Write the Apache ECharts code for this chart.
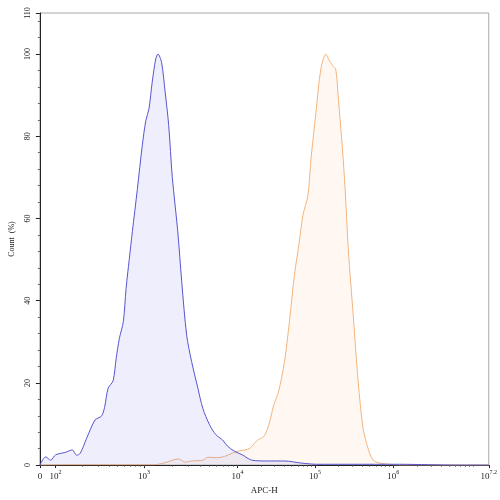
<!DOCTYPE html>
<html>
<head>
<meta charset="utf-8">
<title>APC-H histogram</title>
<script src="https://cdn.jsdelivr.net/npm/echarts@6/dist/echarts.min.js"></script>
<style>
    html, body { margin: 0; padding: 0; background: #fff; }
    #main { width: 500px; height: 500px; }
</style>
</head>
<body>
<div id="main"></div>
<script>
// x is the display channel (0..1000) of the transformed APC-H axis
var tickChannels = [0, 35, 232, 440, 613, 787, 1000];
var tickExps     = ['', '2', '3', '4', '5', '6', '7.2'];
// decade starts used for the small log ticks (channel, exponent width)
var decadeStarts = [35, 232, 440, 613, 787];
var decadeSizes  = [197, 208, 173, 174, 177.5];

var blueX = [0, 13, 24, 35, 57, 72, 82, 90, 104, 123, 137, 144, 152, 163, 170, 177, 186, 192, 199, 206,
             217, 228, 236, 243, 250, 258, 263, 271, 279, 287, 295, 307, 316, 327, 338, 352, 363, 378,
             392, 407, 418, 433, 451, 472, 505, 545, 582, 617, 691, 801, 866, 932, 1000];
var blueY = [0, 2, 1.2, 2.5, 3.1, 3.7, 2.4, 2.9, 6.5, 11, 11.9, 14, 18.7, 20.5, 26, 30.8, 35, 43, 50, 56.8,
             67, 77.7, 83.8, 86.7, 93, 98.8, 100, 98, 90.8, 82.6, 70, 57, 44.6, 31.6, 25.2, 18.7, 13.8, 9.8,
             7.4, 6.1, 4.6, 3.4, 2.5, 1.2, 1.0, 1.0, 0.5, 0.2, 0.2, 0.2, 0.1, 0, 0];

var orangeX = [0, 57, 254, 276, 309, 324, 337, 363, 374, 396, 411, 429, 445, 457, 468, 484, 499, 510, 521,
               532, 545, 556, 567, 578, 586, 597, 604, 615, 626, 637, 643, 652, 659, 665, 674, 680, 687,
               698, 709, 720, 731, 742, 757, 779, 801, 1000];
var orangeY = [0, 0.1, 0.1, 0.5, 1.5, 0.7, 1.0, 1.2, 1.9, 1.8, 2.1, 2.9, 3.5, 3.7, 4.1, 6.0, 7.0, 9.8, 14.6,
               18, 25.2, 35, 46.2, 54.4, 60.8, 65.6, 74.5, 85.8, 96.4, 100, 98.8, 97.2, 96.4, 89, 77, 67.2, 52.7,
               36.5, 20.4, 9, 4.1, 1.3, 0.5, 0.2, 0, 0];

function zip(xs, ys) {
    var out = [];
    for (var i = 0; i < xs.length; i++) out.push([xs[i], ys[i]]);
    return out;
}

// small ticks at 2..9 x 10^k inside each decade
var minorTicks = [];
decadeStarts.forEach(function (start, i) {
    for (var k = 2; k <= 10; k++) {
        var c = start + decadeSizes[i] * Math.log10(k);
        if (c < 1000) minorTicks.push(+c.toFixed(1));
    }
});

var serif = '"Liberation Serif", "DejaVu Serif", serif';
var myChart = echarts.init(document.getElementById('main'));

myChart.setOption({
    animation: false,
    grid: {
        left: 33, right: 10, top: 13, bottom: 33,
        show: true, borderColor: '#a8a8a8', borderWidth: 1
    },
    xAxis: [{
        type: 'value',
        min: 0, max: 1000,
        name: 'APC-H',
        nameLocation: 'middle',
        nameGap: 20,
        nameTextStyle: { fontFamily: serif, fontSize: 9, color: '#222' },
        axisLine: { lineStyle: { color: '#222', width: 1 } },
        axisTick: { customValues: tickChannels, length: 3, lineStyle: { color: '#222' } },
        splitLine: { show: false },
        axisLabel: {
            customValues: tickChannels,
            margin: 4,
            showMinLabel: true, showMaxLabel: true,
            formatter: function (v) {
                var i = tickChannels.indexOf(v);
                if (i <= 0) return '{b|0}';
                return '{b|10}{s|' + tickExps[i] + '}';
            },
            rich: {
                b: { fontFamily: serif, fontSize: 9, color: '#222', lineHeight: 12, verticalAlign: 'bottom' },
                s: { fontFamily: serif, fontSize: 6, color: '#222', lineHeight: 12, verticalAlign: 'top' }
            }
        }
    }, {
        type: 'value',
        min: 0, max: 1000,
        position: 'bottom',
        axisLine: { show: false },
        axisLabel: { show: false },
        splitLine: { show: false },
        axisTick: { customValues: minorTicks, length: 1.5, lineStyle: { color: '#444' } }
    }],
    yAxis: {
        type: 'value',
        min: 0, max: 110, interval: 20,
        name: 'Count  (%)',
        nameLocation: 'middle',
        nameGap: 23,
        nameTextStyle: { fontFamily: serif, fontSize: 8, color: '#222' },
        axisLine: { show: true, lineStyle: { color: '#222', width: 1 } },
        axisTick: { show: true, length: 4, lineStyle: { color: '#222' } },
        minorTick: { show: true, splitNumber: 5, length: 2, lineStyle: { color: '#666' } },
        splitLine: { show: false },
        axisLabel: {
            rotate: 90,
            margin: 8,
            showMaxLabel: true,
            fontFamily: serif, fontSize: 8, color: '#222'
        }
    },
    series: [{
        name: 'sample',
        type: 'line',
        data: zip(orangeX, orangeY),
        smooth: 0.3,
        symbol: 'none',
        lineStyle: { color: '#f3b47e', width: 1 },
        areaStyle: { color: 'rgba(250, 175, 110, 0.13)' },
        z: 2
    }, {
        name: 'control',
        type: 'line',
        data: zip(blueX, blueY),
        smooth: 0.3,
        symbol: 'none',
        lineStyle: { color: '#5656d0', width: 1 },
        areaStyle: { color: 'rgba(110, 110, 240, 0.17)' },
        z: 3
    }]
});
</script>
</body>
</html>
